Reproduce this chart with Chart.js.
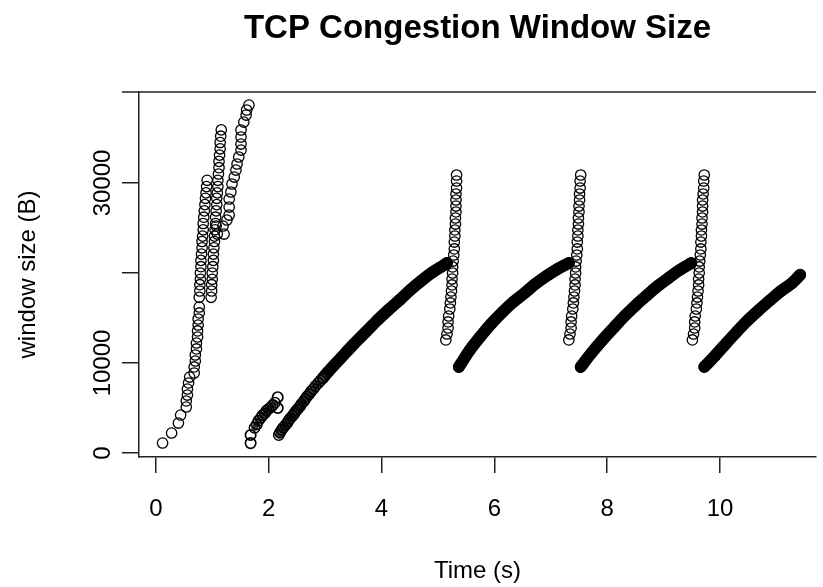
<!DOCTYPE html>
<html><head><meta charset="utf-8">
<script src="https://cdn.jsdelivr.net/npm/chart.js@4/dist/chart.umd.min.js"></script>
<style>html,body{margin:0;padding:0;background:#fff}#wrap{width:823px;height:587px}</style>
</head><body><div id="wrap"><canvas id="c" width="823" height="587"></canvas></div>
<script>
// ---- data (time in s, window size in bytes) ----
const xTicks = [0, 2, 4, 6, 8, 10];
const xTickLabels = ['0', '2', '4', '6', '8', '10'];
const yTicks = [0, 10000, 20000, 30000];
const yTickLabels = ['0', '10000', '', '30000'];

// first slow start (open circles)
const ss1Time = [0.12,0.28,0.40,0.44,0.54,0.54,0.56,0.56,0.58,0.60,
  0.68,0.68,0.70,0.70,0.72,0.72,0.74,0.74,0.75,0.75,0.77,0.77,
  0.77,0.78,0.78,0.79,0.79,0.80,0.80,0.81,0.82,0.82,0.83,0.84,0.84,0.85,0.86,0.87,0.88,0.89,0.90,0.91,
  0.98,0.99,0.99,1.00,1.00,1.01,1.02,1.02,1.03,1.04,1.04,1.05,1.06,1.06,1.07,1.08,1.08,1.09,1.10,1.10,1.11,1.12,1.12,1.13,1.14,1.14,1.15,1.16,
  1.07,1.19,1.09,1.21,1.26,
  1.30,1.30,1.30,1.33,1.35,1.39,1.42,1.44,1.47,1.51,1.51,1.51,1.51,1.56,1.60,1.61,1.65];
const ss1Cwnd = [1110,2220,3330,4220,5110,5780,6440,7110,7780,8440,
  8890,9560,10220,10890,11560,12220,12890,13560,14220,14890,15560,16220,
  17300,18000,18700,19300,20000,20700,21400,22100,22800,23500,24100,24800,25500,26200,26900,27600,28300,28900,29600,30300,
  17300,18000,18700,19300,20000,20700,21400,22100,22800,23500,24100,24800,25500,26200,26900,27600,28300,28900,29600,30300,31000,31700,32400,33100,33800,34500,35200,35900,
  25220,25220,24330,24330,25890,
  26440,27330,28220,29000,29890,30660,31440,32110,32890,33660,34330,35110,35890,36770,37550,38110,38660];

// second slow start after timeout: isolated circles, then a dense arc
const ss2Time = [1.68,1.68,2.16,2.16];
const ss2Cwnd = [1100,2000,6200,5000];
const ss2ArcTime = [1.75,1.79,1.82,1.86,1.89,1.93,1.96,2.00,2.04,2.07,2.11];
const ss2ArcCwnd = [2800,3200,3600,3900,4200,4400,4700,4900,5100,5300,5600];

// congestion avoidance, first ramp (early textured part, then dense band)
const caA1Time = [2.18,2.20,2.23,2.26,2.30,2.33,2.35,2.38,2.42,2.45,2.47,2.50,2.53,2.56,2.58,2.62,2.65,2.68,2.72,2.75,2.79,2.83,2.88,2.92,2.96];
const caA1Cwnd = [2000,2280,2560,2830,3110,3330,3560,3830,4110,4330,4560,4780,5000,5220,5440,5720,6000,6280,6560,6830,7110,7440,7780,8060,8330];
const caA2Time = [2.96,3.05,3.28,3.51,3.72,3.93,4.12,4.32,4.51,4.70,4.91,5.11,5.16];
const caA2Cwnd = [8330,9000,10560,12110,13440,14780,15890,17000,18110,19110,20110,20890,21110];

// congestion avoidance ramps after each fast recovery
const caBTime = [5.37,5.56,5.76,5.95,6.15,6.34,6.54,6.73,6.93,7.12,7.32];
const caBCwnd = [9560,11400,13000,14400,15700,16800,17800,18800,19700,20450,21110];
const caCTime = [7.53,7.72,7.92,8.12,8.31,8.51,8.71,8.90,9.10,9.29,9.49];
const caCCwnd = [9560,11110,12580,13950,15240,16440,17550,18580,19510,20350,21110];
const caDTime = [9.72,9.91,10.11,10.30,10.50,10.69,10.89,11.08,11.28,11.42];
const caDCwnd = [9560,10800,12200,13500,14800,15900,17000,18000,18900,19800];

// fast recovery columns (window inflation)
const frCwnd = [12560,13220,13890,14560,15220,16000,16670,17330,18000,18670,19330,20000,20670,21330,22000,22670,23440,24110,24780,25440,26110,26780,27440,28110,28780,29440,30220,30890];
const fr1Time = [5.14,5.16,5.18,5.18,5.19,5.21,5.22,5.23,5.24,5.25,5.25,5.26,5.26,5.27,5.28,5.29,5.29,5.30,5.30,5.31,5.31,5.32,5.32,5.32,5.32,5.33,5.33,5.33];
const fr2Time = [7.32,7.34,7.36,7.36,7.37,7.39,7.40,7.41,7.42,7.43,7.43,7.44,7.44,7.45,7.46,7.47,7.47,7.48,7.48,7.49,7.49,7.50,7.50,7.51,7.51,7.52,7.52,7.53];
const fr3Time = [9.51,9.53,9.55,9.55,9.56,9.58,9.59,9.60,9.61,9.62,9.62,9.63,9.63,9.64,9.65,9.66,9.66,9.67,9.67,9.68,9.68,9.69,9.69,9.69,9.70,9.71,9.71,9.72];

// ---- chart ----
const FONT = "'Liberation Sans', Arial, Helvetica, sans-serif";
const AXIS = '#222';
function pts(t, w) { return t.map((x, i) => ({ x: x, y: w[i] })); }
const openPts = { pointRadius: 5.2, pointHoverRadius: 5.2, pointBorderWidth: 1.3, pointBorderColor: '#000',
  pointBackgroundColor: 'rgba(0,0,0,0)', showLine: false };
const band = { showLine: true, borderColor: '#000', borderWidth: 12, borderCapStyle: 'round',
  borderJoinStyle: 'round', tension: 0.3 };
const texture = { showLine: true, borderColor: '#3a3a3a', borderWidth: 7, borderCapStyle: 'round',
  borderJoinStyle: 'round', tension: 0.3, pointBorderWidth: 1.5 };

const datasets = [
  Object.assign({ label: 'ss1', data: pts(ss1Time, ss1Cwnd) }, openPts),
  Object.assign({ label: 'ss2arc', data: pts(ss2ArcTime, ss2ArcCwnd) }, openPts, texture, { borderWidth: 6 }),
  Object.assign({ label: 'ss2', data: pts(ss2Time, ss2Cwnd) }, openPts, { pointBorderWidth: 1.7 }),
  Object.assign({ label: 'caA1', data: pts(caA1Time, caA1Cwnd) }, openPts, texture),
  Object.assign({ label: 'caA2', data: pts(caA2Time, caA2Cwnd) }, openPts, band),
  Object.assign({ label: 'caB', data: pts(caBTime, caBCwnd) }, openPts, band),
  Object.assign({ label: 'caC', data: pts(caCTime, caCCwnd) }, openPts, band),
  Object.assign({ label: 'caD', data: pts(caDTime, caDCwnd) }, openPts, band),
  Object.assign({ label: 'fr1', data: pts(fr1Time, frCwnd) }, openPts),
  Object.assign({ label: 'fr2', data: pts(fr2Time, frCwnd) }, openPts),
  Object.assign({ label: 'fr3', data: pts(fr3Time, frCwnd) }, openPts)
];

const Y_TICK_LEN = 17;
const frame = {
  id: 'frame',
  afterDraw(chart) {
    const ctx = chart.ctx, a = chart.chartArea, y = chart.scales.y;
    ctx.save();
    ctx.strokeStyle = AXIS; ctx.lineWidth = 1.5;
    ctx.beginPath(); ctx.moveTo(a.left - Y_TICK_LEN, a.top); ctx.lineTo(a.right, a.top); ctx.stroke();
    ctx.fillStyle = '#000'; ctx.font = '24px ' + FONT;
    ctx.textAlign = 'center'; ctx.textBaseline = 'middle';
    yTicks.forEach((v, i) => {
      const lab = yTickLabels[i];
      if (!lab) return;
      ctx.save();
      ctx.translate(a.left - 36, y.getPixelForValue(v));
      ctx.rotate(-Math.PI / 2);
      ctx.fillText(lab, 0, 0);
      ctx.restore();
    });
    ctx.restore();
  }
};

new Chart(document.getElementById('c'), {
  type: 'scatter',
  data: { datasets: datasets },
  options: {
    responsive: false, animation: false, devicePixelRatio: 1,
    layout: { padding: 0 },
    plugins: {
      legend: { display: false }, tooltip: { enabled: false },
      title: { display: true, text: 'TCP Congestion Window Size', color: '#000', fullSize: false,
        font: { family: FONT, size: 33, weight: 'bold' }, padding: { top: 9, bottom: 43.4 } }
    },
    scales: {
      x: {
        type: 'linear', min: -0.298, max: 11.702,
        afterBuildTicks: s => { s.ticks = xTicks.map(v => ({ value: v })); },
        afterFit: s => { s.height = 130; },
        ticks: { color: '#000', font: { family: FONT, size: 24 }, padding: 22,
          callback: (v, i) => xTickLabels[i], maxRotation: 0 },
        grid: { display: true, drawOnChartArea: false, drawTicks: true, tickLength: 16, color: AXIS, lineWidth: 1.5 },
        border: { display: true, color: AXIS, width: 1.5 },
        title: { display: true, text: 'Time (s)', color: '#000', font: { family: FONT, size: 24 }, padding: { top: 0, bottom: 1 } }
      },
      y: {
        type: 'linear', min: -444, max: 40111,
        afterBuildTicks: s => { s.ticks = yTicks.map(v => ({ value: v })); },
        afterFit: s => { s.width = 139; },
        ticks: { display: false },
        grid: { display: true, drawOnChartArea: false, drawTicks: true, tickLength: Y_TICK_LEN, color: AXIS, lineWidth: 1.5 },
        border: { display: true, color: AXIS, width: 1.5 },
        title: { display: true, text: 'window size (B)', color: '#000', font: { family: FONT, size: 24 }, padding: { top: 14, bottom: 0 } }
      }
    }
  },
  plugins: [frame]
});
</script>
</body></html>
